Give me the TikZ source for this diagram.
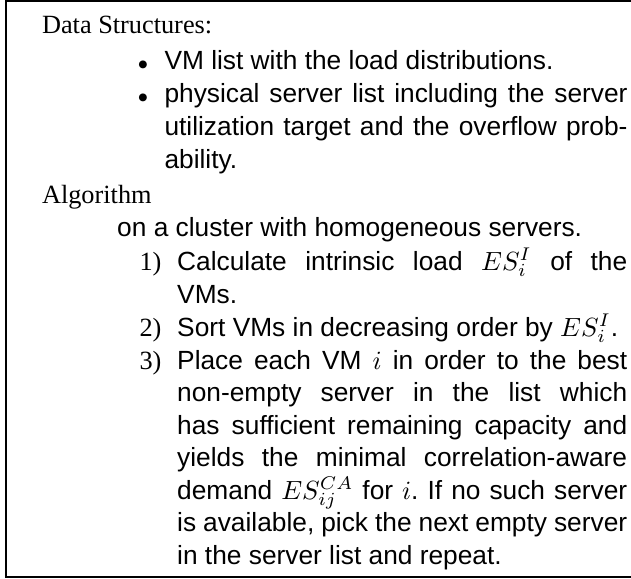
\documentclass[tikz,border=0pt]{standalone}
\usepackage{fontspec}
\setmainfont{Liberation Serif}
\newfontfamily\hv{Liberation Sans}
\newcommand{\jline}[2]{\makebox[\dimexpr0.3802pt*#1\relax][s]{#2}}
\frenchspacing
\begin{document}
\begin{tikzpicture}[x=0.3802pt,y=-0.3802pt,
  sans/.style={anchor=base west, inner sep=0pt, font=\hv\fontsize{10pt}{12pt}\selectfont\frenchspacing},
  serif/.style={anchor=base west, inner sep=0pt, font=\fontsize{10pt}{12pt}\selectfont},
  bul/.style={anchor=base, inner sep=0pt, font=\fontsize{10pt}{12pt}\selectfont},
  frame/.style={line width=0.65pt}]
\useasboundingbox (0,0) rectangle (631,578);
\draw[frame] (631,1) -- (6,1) -- (6,577) -- (631,577);
% Data structures
\node[serif] (ds) at (41.5,33) {Data Structures:};
\node[bul] (b1) at (143,69) {$\scriptstyle\bullet$};
\node[sans] (vm) at (164,69) {VM list with the load distributions.};
\node[bul] (b2) at (143,102) {$\scriptstyle\bullet$};
\node[sans] (ps1) at (164,102) {\jline{463}{physical server list including the server}};
\node[sans] (ps2) at (164,135) {\jline{463}{utilization target and the overflow prob-}};
\node[sans] (ps3) at (164,168) {ability.};
% Algorithm
\node[serif] (alg) at (41.5,203) {Algorithm};
\node[sans] (cl) at (116.7,236) {on a cluster with homogeneous servers.};
\node[serif] (n1) at (139,270) {1)};
\node[sans] (s1a) at (176.7,270) {\jline{450}{Calculate intrinsic load $ES_i^I$ of the}};
\node[sans] (s1b) at (176.7,303) {VMs.};
\node[serif] (n2) at (139,336) {2)};
\node[sans] (s2) at (176.7,336) {Sort VMs in decreasing order by $ES_i^I$.};
\node[serif] (n3) at (139,369) {3)};
\node[sans] (s3a) at (176.7,369) {\jline{450}{Place each VM $i$ in order to the best}};
\node[sans] (s3b) at (176.7,401.5) {\jline{450}{non-empty server in the list which}};
\node[sans] (s3c) at (176.7,434) {\jline{450}{has sufficient remaining capacity and}};
\node[sans] (s3d) at (176.7,466.5) {\jline{450}{yields the minimal correlation-aware}};
\node[sans] (s3e) at (176.7,499) {\jline{450}{demand $ES_{ij}^{CA}$ for $i$. If no such server}};
\node[sans] (s3f) at (176.7,531.5) {\jline{450}{is available, pick the next empty server}};
\node[sans] (s3g) at (176.7,564) {in the server list and repeat.};
\end{tikzpicture}
\end{document}
